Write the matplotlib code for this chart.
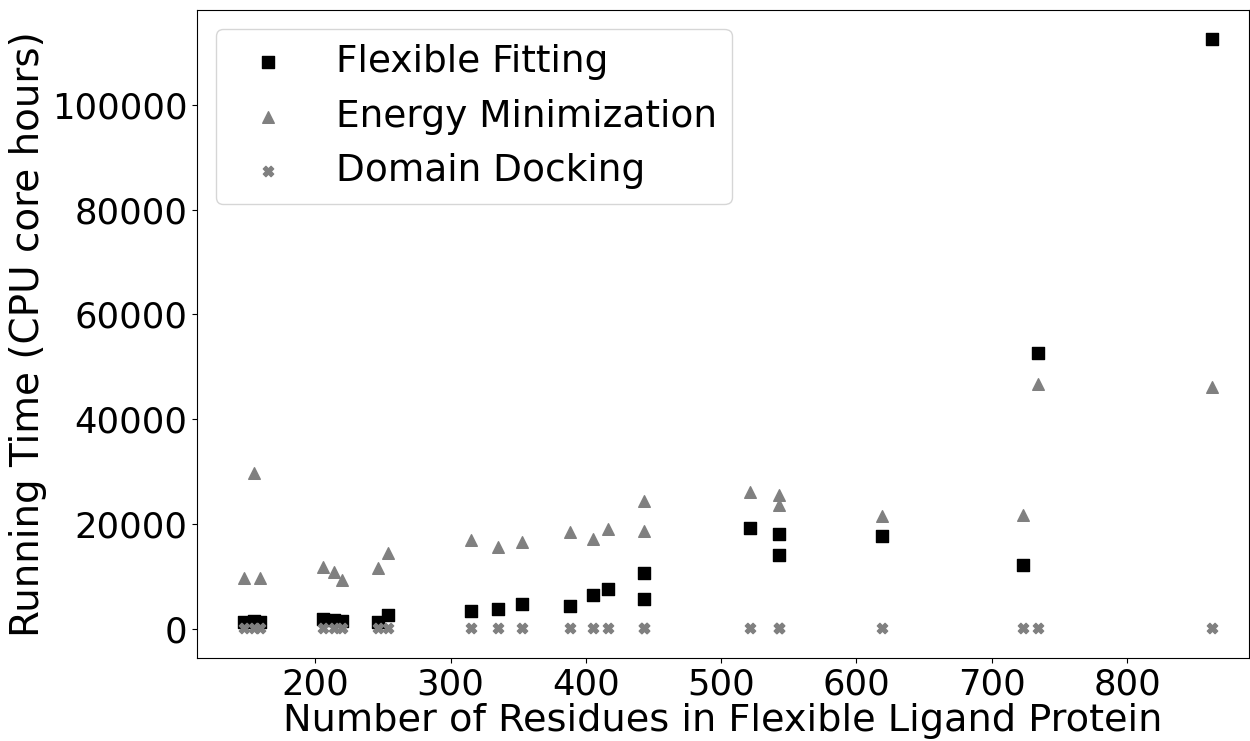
import matplotlib
matplotlib.use("Agg")
import matplotlib.pyplot as plt

plt.rcParams['font.family'] = ['DejaVu Sans']

# Number of residues in the flexible ligand protein (one entry per test case)
residues = [147, 155, 159, 206, 214, 220, 246, 254, 315, 335, 353, 388,
            405, 416, 443, 443, 521, 543, 543, 619, 723, 734, 863]

# Running times (CPU core hours)
flexible_fitting = [1300, 1400, 1300, 1800, 1600, 1500, 1300, 2600, 3300, 3800,
                    4700, 4400, 6400, 7500, 10700, 5600, 19300, 18000, 14000,
                    17700, 12100, 52700, 112500]
energy_minimization = [9600, 29800, 9700, 11700, 10800, 9300, 11600, 14500,
                       17000, 15500, 16600, 18400, 17100, 19000, 24400, 18700,
                       26100, 25500, 23600, 21500, 21700, 46800, 46200]
domain_docking = [100, 100, 100, 100, 100, 100, 100, 100, 100, 100, 100, 100,
                  100, 100, 100, 100, 100, 100, 100, 100, 100, 100, 100]

series_labels = ["Flexible Fitting", "Energy Minimization", "Domain Docking"]
x_ticks = [200, 300, 400, 500, 600, 700, 800]
y_ticks = [0, 20000, 40000, 60000, 80000, 100000]

fig = plt.figure(figsize=(12.5, 7.41), dpi=100)
ax = fig.add_axes([0.1576, 0.112, 0.8414, 0.8745])

ax.scatter(residues, flexible_fitting, marker='s', s=78, color='black',
           label=series_labels[0], zorder=3)
ax.scatter(residues, energy_minimization, marker='^', s=70, color='#808080',
           label=series_labels[1], zorder=3)
ax.scatter(residues, domain_docking, marker='X', s=55, color='#808080',
           label=series_labels[2], zorder=3)

ax.set_xlim(112.5, 890)
ax.set_ylim(-5600, 118100)
ax.set_xticks(x_ticks)
ax.set_yticks(y_ticks)
ax.tick_params(labelsize=25.5)
ax.set_xlabel("Number of Residues in Flexible Ligand Protein", fontsize=27.5, labelpad=1)
ax.set_ylabel("Running Time (CPU core hours)", fontsize=28, labelpad=3)

ax.legend(loc='upper left', fontsize=27)

fig.savefig("out.png", dpi=100)
